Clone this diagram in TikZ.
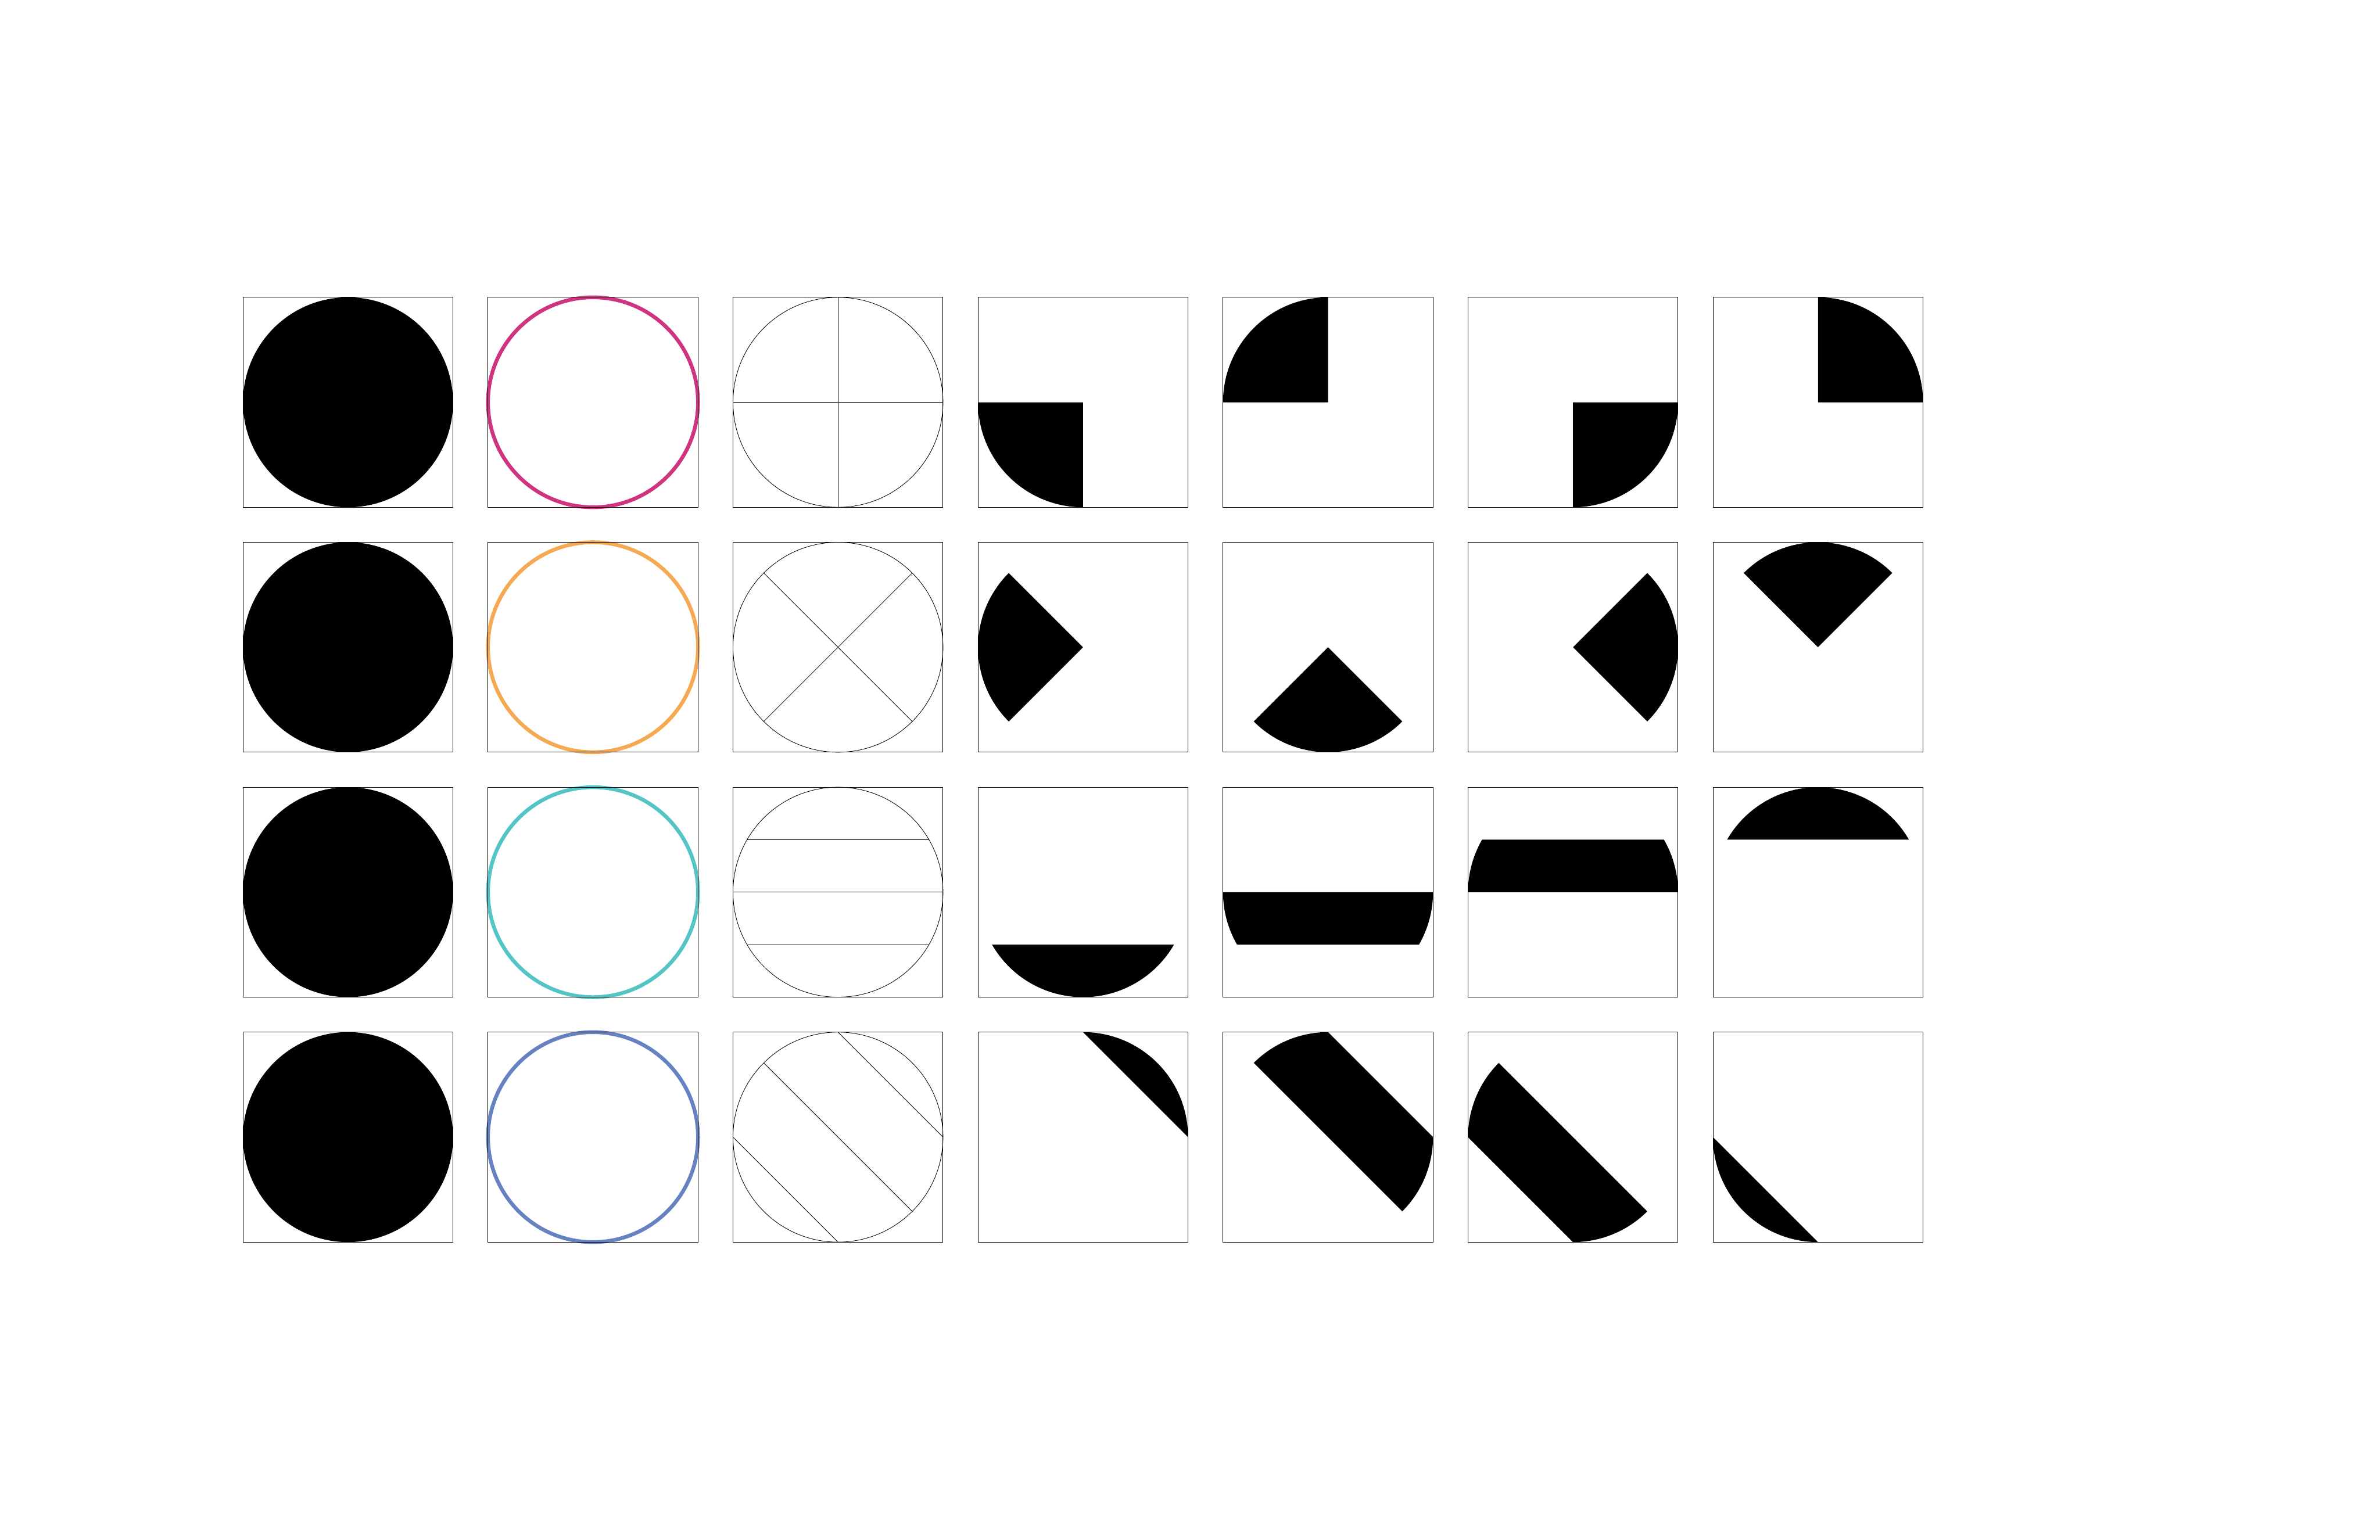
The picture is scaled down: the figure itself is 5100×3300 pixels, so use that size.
\documentclass[tikz,border=0pt]{standalone}
\definecolor{cmag}{HTML}{D03380}
\definecolor{corange}{HTML}{F4A952}
\definecolor{cteal}{HTML}{54C4C6}
\definecolor{cblue}{HTML}{6682C2}
\begin{document}
\begin{tikzpicture}[x=0.01cm,y=0.01cm,
  cellbox/.style={draw=black,line width=0.3pt},
  ring/.style={line width=2.3pt},
  guide/.style={draw=black,line width=0.3pt},
  piece/.style={fill=black}]
\useasboundingbox (0,0) rectangle (5100,3300);
\def\R{225}
% column 1: filled discs
\foreach \j in {0,...,3}
  \fill[black] (745.7,{2437.7-525*\j}) circle (\R);
% column 2: coloured rings
\foreach \j/\cc in {0/cmag,1/corange,2/cteal,3/cblue}
  \draw[ring,draw=\cc] (1270.7,{2437.7-525*\j}) circle (\R);
% column 3: guide circles with cut lines
\begin{scope}[shift={(1795.7,2437.7)}]
  \draw[guide] (0,0) circle (\R);
  \draw[guide] (-\R,0) -- (\R,0);
  \draw[guide] (0,-\R) -- (0,\R);
\end{scope}
\begin{scope}[shift={(1795.7,1912.7)}]
  \draw[guide] (0,0) circle (\R);
  \draw[guide] (45:\R) -- (225:\R);
  \draw[guide] (135:\R) -- (315:\R);
\end{scope}
\begin{scope}[shift={(1795.7,1387.7)}]
  \draw[guide] (0,0) circle (\R);
  \draw[guide] (-\R,0) -- (\R,0);
  \draw[guide] (150:\R) -- (30:\R);
  \draw[guide] (210:\R) -- (330:\R);
\end{scope}
\begin{scope}[shift={(1795.7,862.7)}]
  \draw[guide] (0,0) circle (\R);
  \draw[guide] (0,\R) -- (\R,0);
  \draw[guide] (135:\R) -- (315:\R);
  \draw[guide] (-\R,0) -- (0,-\R);
\end{scope}
% row 1 pieces: quadrants
\begin{scope}[shift={(2320.7,2437.7)}]
  \fill[piece] (0,0) -- (-\R,0) arc (180:270:\R) -- cycle;
\end{scope}
\begin{scope}[shift={(2845.7,2437.7)}]
  \fill[piece] (0,0) -- (0,\R) arc (90:180:\R) -- cycle;
\end{scope}
\begin{scope}[shift={(3370.7,2437.7)}]
  \fill[piece] (0,0) -- (0,-\R) arc (270:360:\R) -- cycle;
\end{scope}
\begin{scope}[shift={(3895.7,2437.7)}]
  \fill[piece] (0,0) -- (\R,0) arc (0:90:\R) -- cycle;
\end{scope}
% row 2 pieces: diagonal sectors
\begin{scope}[shift={(2320.7,1912.7)}]
  \fill[piece] (0,0) -- (135:\R) arc (135:225:\R) -- cycle;
\end{scope}
\begin{scope}[shift={(2845.7,1912.7)}]
  \fill[piece] (0,0) -- (225:\R) arc (225:315:\R) -- cycle;
\end{scope}
\begin{scope}[shift={(3370.7,1912.7)}]
  \fill[piece] (0,0) -- (-45:\R) arc (-45:45:\R) -- cycle;
\end{scope}
\begin{scope}[shift={(3895.7,1912.7)}]
  \fill[piece] (0,0) -- (45:\R) arc (45:135:\R) -- cycle;
\end{scope}
% row 3 pieces: horizontal bands
\begin{scope}[shift={(2320.7,1387.7)}]
  \fill[piece] (210:\R) arc (210:330:\R) -- cycle;
\end{scope}
\begin{scope}[shift={(2845.7,1387.7)}]
  \fill[piece] (-\R,0) arc (180:210:\R) -- (330:\R) arc (330:360:\R) -- cycle;
\end{scope}
\begin{scope}[shift={(3370.7,1387.7)}]
  \fill[piece] (\R,0) arc (0:30:\R) -- (150:\R) arc (150:180:\R) -- cycle;
\end{scope}
\begin{scope}[shift={(3895.7,1387.7)}]
  \fill[piece] (30:\R) arc (30:150:\R) -- cycle;
\end{scope}
% row 4 pieces: diagonal bands
\begin{scope}[shift={(2320.7,862.7)}]
  \fill[piece] (\R,0) arc (0:90:\R) -- cycle;
\end{scope}
\begin{scope}[shift={(2845.7,862.7)}]
  \fill[piece] (135:\R) arc (135:90:\R) -- (\R,0) arc (0:-45:\R) -- cycle;
\end{scope}
\begin{scope}[shift={(3370.7,862.7)}]
  \fill[piece] (135:\R) -- (315:\R) arc (315:270:\R) -- (-\R,0) arc (180:135:\R) -- cycle;
\end{scope}
\begin{scope}[shift={(3895.7,862.7)}]
  \fill[piece] (-\R,0) arc (180:270:\R) -- cycle;
\end{scope}
% cell frames
\foreach \j in {0,...,3}
  \foreach \i in {0,...,6}
    \draw[cellbox] ({520.7+525*\i},{2662.7-525*\j}) rectangle ++(450,-450);
\end{tikzpicture}
\end{document}
